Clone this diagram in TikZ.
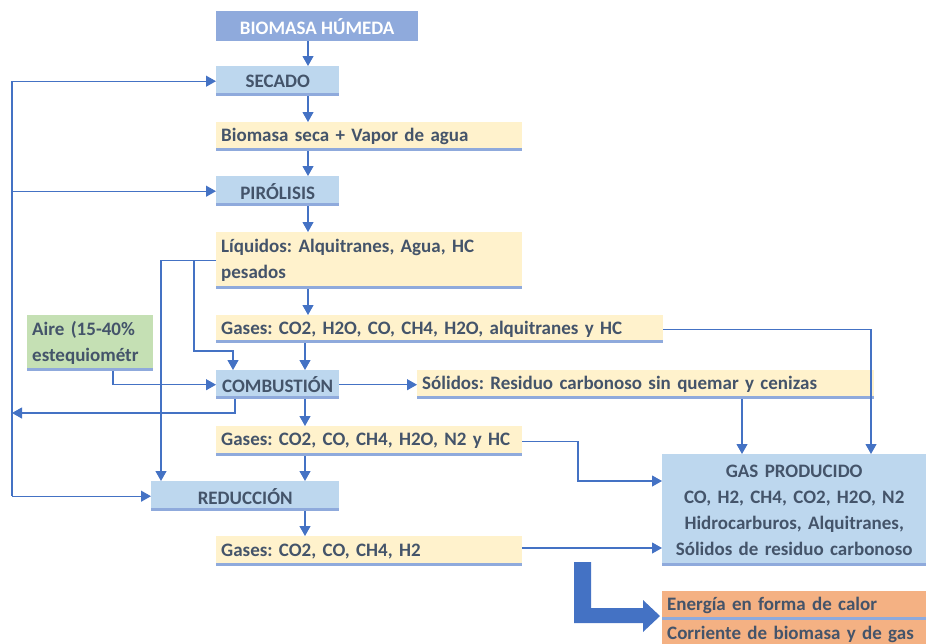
\documentclass[tikz,border=0pt]{standalone}
\usepackage{fontspec}
\setmainfont{Carlito}
\usetikzlibrary{arrows.meta}
\frenchspacing
\definecolor{tx}{HTML}{44546A}
\definecolor{ln}{HTML}{4472C4}
\definecolor{bd}{HTML}{8FAADC}
\definecolor{lb}{HTML}{BDD7EE}
\definecolor{yl}{HTML}{FFF2CC}
\definecolor{gr}{HTML}{C5E0B4}
\definecolor{og}{HTML}{F4B183}
\tikzset{
  fnt/.style={font=\fontsize{19}{26}\selectfont\bfseries\frenchspacing},
  base/.style={fnt, anchor=north west, inner xsep=5pt, inner ysep=0pt, text=tx},
  bline/.style={path picture={\fill[bd] ([yshift=3pt]path picture bounding box.south west) rectangle (path picture bounding box.south east);}},
  cbox/.style 2 args={base, bline, fill=lb, minimum width=#1, minimum height=#2, align=center},
  lbox/.style 2 args={base, bline, minimum width=#1, minimum height=#2, text width=#1-10pt, align=left},
  conn/.style={draw=ln, line width=1.1pt},
  arr/.style={conn, -{Triangle[length=10pt,width=11pt]}},
}
\begin{document}
\begin{tikzpicture}[x=1pt,y=-1pt]
\useasboundingbox (0,0) rectangle (926,643);
\clip (0,0) rectangle (926,643);
% nodes
\node[base, fill=bd, text=white, minimum width=202pt, minimum height=30pt, align=center] (bio) at (216,11) {BIOMASA HÚMEDA};
\node[cbox={123pt}{30pt}] (sec) at (216,66) {SECADO};
\node[lbox={306pt}{29pt}, fill=yl] (bs) at (216,122) {Biomasa seca + Vapor de agua};
\node[cbox={123pt}{30pt}] (pir) at (216,176) {PIRÓLISIS};
\node[lbox={306pt}{57pt}, fill=yl] (liq) at (216,232) {Líquidos: Alquitranes, Agua, HC\\pesados};
\node[lbox={447pt}{28pt}, fill=yl] (g1) at (216,315) {Gases: CO2, H2O, CO, CH4, H2O, alquitranes y HC};
\node[lbox={126pt}{56pt}, fill=gr] (aire) at (27,315) {Aire (15-40\%\\estequiométr};
\node[cbox={123pt}{29pt}] (com) at (216,370) {COMBUSTIÓN};
\node[lbox={457pt}{29pt}, fill=yl] (sol) at (417,370) {Sólidos: Residuo carbonoso sin quemar y cenizas};
\node[lbox={306pt}{30pt}, fill=yl] (g2) at (216,426) {Gases: CO2, CO, CH4, H2O, N2 y HC};
\node[cbox={188pt}{30pt}] (red) at (151,481) {REDUCCIÓN};
\node[lbox={306pt}{30pt}, fill=yl] (g3) at (216,536) {Gases: CO2, CO, CH4, H2};
\node[cbox={264pt}{112pt}, text width=254pt] (gp) at (662,454) {GAS PRODUCIDO\\CO, H2, CH4, CO2, H2O, N2\\Hidrocarburos, Alquitranes,\\Sólidos de residuo carbonoso};
\node[lbox={264pt}{29pt}, fill=og] (en) at (662,591) {Energía en forma de calor};
\node[base, fill=og, minimum width=264pt, minimum height=29pt, text width=254pt, align=left] (cor) at (662,620) {Corriente de biomasa y de gas};
% helper coordinates
\coordinate (xa) at (308,0);
\coordinate (xb) at (305,0);
\coordinate (L) at (12,0);
\coordinate (xair) at (113,0);
\coordinate (xr) at (161,0);
\coordinate (k1) at (194,351);
\coordinate (xc) at (233,0);
\coordinate (k2) at (235,413);
\coordinate (xg1) at (871,0);
\coordinate (xs) at (742,0);
\coordinate (k3) at (578,481);
\coordinate (y3) at (0,548);
% main column
\draw[arr] (bio.south -| xa) -- (sec.north -| xa);
\draw[arr] (sec.south -| xa) -- (bs.north -| xa);
\draw[arr] (bs.south -| xa) -- (pir.north -| xa);
\draw[arr] (pir.south -| xa) -- (liq.north -| xa);
\draw[arr] (liq.south -| xa) -- (g1.north -| xa);
\draw[arr] (g1.south -| xb) -- (com.north -| xb);
\draw[arr] (com.south -| xb) -- (g2.north -| xb);
\draw[arr] (g2.south -| xb) -- (red.north -| xb);
\draw[arr] (red.south -| xb) -- (g3.north -| xb);
\draw[arr] (com.east) -- (sol.west);
% air
\draw[arr] (aire.south -| xair) |- (com.west);
% liquids branches
\draw[arr] (liq.west) -| (red.north -| xr);
\draw[arr] (liq.west -| k1) -- (k1) -| (com.north -| xc);
% combustion loop
\draw[arr] (com.south -| k2) -- (k2) -- (k2 -| L);
\draw[conn] (L |- sec.west) -- (L |- red.west);
\draw[arr] (L |- sec.west) -- (sec.west);
\draw[arr] (L |- pir.west) -- (pir.west);
\draw[arr] (L |- red.west) -- (red.west);
% to gas producido
\draw[arr] (g1.east) -| (gp.north -| xg1);
\draw[arr] (sol.south -| xs) -- (gp.north -| xs);
\draw[arr] (g2.east) -| (k3) -- (k3 -| gp.west);
\draw[arr] (g3.east |- y3) -- (gp.west |- y3);
% big arrow
\fill[ln] (574,562) -- (591,562) -- (591,608) -- (643,608) -- (643,600) -- (660,616) -- (643,632) -- (643,623) -- (574,623) -- cycle;
\end{tikzpicture}
\end{document}
